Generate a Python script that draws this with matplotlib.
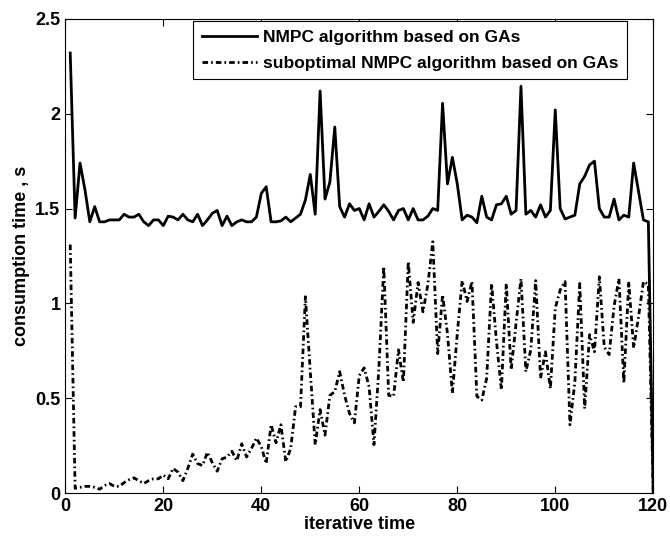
import numpy as np
import matplotlib.pyplot as plt

plt.rcParams['font.family'] = ['Liberation Sans', 'DejaVu Sans']
plt.rcParams['font.weight'] = 'bold'

# iteration index 1..120
iters = np.arange(1, 121)

# NMPC algorithm based on GAs
nmpc = [2.32, 1.45, 1.74, 1.60, 1.43, 1.51, 1.43, 1.43, 1.44, 1.44,
        1.44, 1.47, 1.455, 1.455, 1.47, 1.43, 1.41, 1.44, 1.44, 1.41,
        1.46, 1.455, 1.44, 1.47, 1.44, 1.43, 1.47, 1.41, 1.44, 1.475,
        1.49, 1.41, 1.46, 1.41, 1.43, 1.44, 1.43, 1.43, 1.455, 1.58,
        1.615, 1.43, 1.43, 1.435, 1.455, 1.43, 1.45, 1.47, 1.545, 1.68,
        1.47, 2.12, 1.55, 1.64, 1.93, 1.51, 1.455, 1.525, 1.49, 1.50,
        1.44, 1.525, 1.455, 1.485, 1.52, 1.485, 1.44, 1.49, 1.50, 1.44,
        1.50, 1.44, 1.44, 1.46, 1.50, 1.49, 2.055, 1.63, 1.77, 1.63,
        1.44, 1.465, 1.455, 1.425, 1.565, 1.455, 1.44, 1.52, 1.525, 1.565,
        1.47, 1.49, 2.145, 1.47, 1.49, 1.455, 1.52, 1.455, 1.49, 2.02,
        1.50, 1.445, 1.455, 1.465, 1.63, 1.67, 1.73, 1.75, 1.50, 1.455,
        1.455, 1.55, 1.44, 1.465, 1.455, 1.74, 1.59, 1.44, 1.43, 0.0]

# suboptimal NMPC algorithm based on GAs
subopt = [1.31, 0.025, 0.03, 0.035, 0.035, 0.03, 0.02, 0.04, 0.05, 0.035,
          0.035, 0.055, 0.07, 0.08, 0.065, 0.05, 0.065, 0.075, 0.075, 0.095,
          0.075, 0.13, 0.11, 0.065, 0.13, 0.205, 0.155, 0.145, 0.215, 0.16,
          0.115, 0.18, 0.19, 0.22, 0.17, 0.26, 0.19, 0.235, 0.29, 0.245,
          0.155, 0.36, 0.265, 0.36, 0.165, 0.235, 0.455, 0.455, 1.035, 0.64,
          0.255, 0.44, 0.305, 0.515, 0.535, 0.64, 0.515, 0.42, 0.37, 0.62,
          0.66, 0.56, 0.255, 0.66, 1.195, 0.515, 0.51, 0.755, 0.585, 1.22,
          0.90, 1.11, 0.955, 1.10, 1.325, 0.735, 1.045, 0.84, 0.525, 0.84,
          1.12, 1.01, 1.115, 0.51, 0.49, 0.605, 1.105, 0.80, 0.545, 1.105,
          0.65, 0.895, 1.13, 0.64, 0.755, 1.12, 0.605, 0.745, 0.55, 0.975,
          1.07, 1.115, 0.36, 0.585, 1.105, 0.445, 0.835, 0.745, 1.14, 0.77,
          0.73, 0.985, 1.13, 0.58, 1.115, 0.765, 0.93, 1.115, 1.10, 0.0]

fig = plt.figure(figsize=(6.7, 5.4), dpi=100)
ax = fig.add_axes([0.0975, 0.087, 0.8775, 0.878])

ax.plot(iters, nmpc, color='black', linewidth=2.0, linestyle='-',
        label='NMPC algorithm based on GAs')
ax.plot(iters, subopt, color='black', linewidth=2.0, linestyle=(0, (2.0, 1.1, 0.6, 1.1)),
        label='suboptimal NMPC algorithm based on GAs')

ax.set_xlim(0, 120)
ax.set_ylim(0, 2.5)
ax.set_xticks(np.arange(0, 121, 20))
ax.set_yticks([0, 0.5, 1, 1.5, 2, 2.5])
ax.set_yticklabels(['0', '0.5', '1', '1.5', '2', '2.5'])
ax.tick_params(direction='in', top=True, right=True, labelsize=13, length=5, width=0.8)
for lab in ax.get_xticklabels() + ax.get_yticklabels():
    lab.set_fontweight('bold')

ax.set_xlabel('iterative time', fontsize=13, fontweight='bold', labelpad=1)
ax.set_ylabel('consumption time , s', fontsize=13, fontweight='bold', labelpad=4)

leg = ax.legend(loc='upper right', bbox_to_anchor=(0.955, 0.995), fontsize=12.5,
                frameon=True, fancybox=False, edgecolor='black', framealpha=1,
                handlelength=3.2, handletextpad=0.3, borderpad=0.5, labelspacing=0.6,
                borderaxespad=0.0)
leg.get_frame().set_linewidth(0.8)
for t in leg.get_texts():
    t.set_fontweight('bold')

fig.savefig('out.png', dpi=100)
